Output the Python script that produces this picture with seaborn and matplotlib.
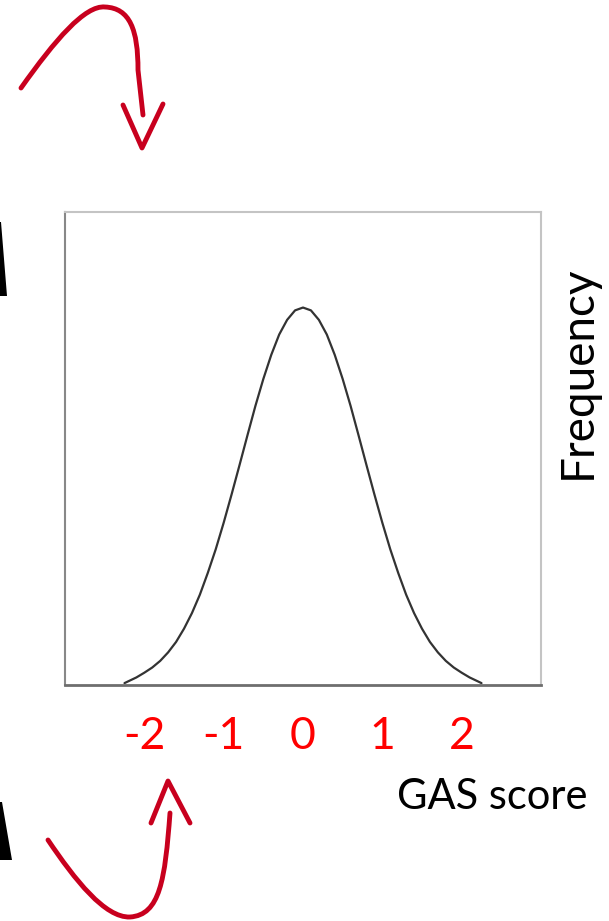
import pandas as pd
import seaborn as sns
import matplotlib.pyplot as plt
from matplotlib.path import Path
from matplotlib.patches import PathPatch, Polygon

# values (x in GAS score units, height as fraction of the box)
gas_score = [-2.25, -2.2, -2.1, -2.0, -1.9, -1.8, -1.7, -1.6, -1.5, -1.4, -1.3, -1.2,
             -1.1, -1.0, -0.9, -0.8, -0.7, -0.6, -0.5, -0.4, -0.3, -0.2, -0.1, 0.0,
             0.1, 0.2, 0.3, 0.4, 0.5, 0.6, 0.7, 0.8, 0.9, 1.0, 1.1, 1.2,
             1.3, 1.4, 1.5, 1.6, 1.7, 1.8, 1.9, 2.0, 2.1, 2.2, 2.25]
frequency = [0.004, 0.008, 0.016, 0.026, 0.037, 0.051, 0.069, 0.091, 0.119, 0.152, 0.191, 0.237,
             0.287, 0.343, 0.403, 0.465, 0.528, 0.590, 0.647, 0.698, 0.741, 0.772, 0.792, 0.798,
             0.792, 0.772, 0.741, 0.698, 0.647, 0.590, 0.528, 0.465, 0.403, 0.343, 0.287, 0.237,
             0.191, 0.152, 0.119, 0.091, 0.069, 0.051, 0.037, 0.026, 0.016, 0.008, 0.004]
score_ticks = [-2, -1, 0, 1, 2]
score_labels = ["-2", "-1", "0", "1", "2"]

df = pd.DataFrame({"GAS score": gas_score, "Frequency": frequency})

sns.set_style("white")
plt.rcParams['font.family'] = ['Lato', 'DejaVu Sans']

W, H = 609, 921
fig = plt.figure(figsize=(W / 100, H / 100), dpi=100)
ax = fig.add_axes([65 / W, 1 - 685 / H, (541 - 65) / W, (685 - 212) / H])

sns.lineplot(data=df, x="GAS score", y="Frequency", ax=ax, color="#333333", linewidth=1.6)
ax.set_xlim(-3, 3)
ax.set_ylim(0, 1)
ax.set_xlabel("")
ax.set_ylabel("")

# red score labels under the axis, one small tick at 0
ax.set_xticks(score_ticks)
ax.set_xticklabels(score_labels, color="red", fontsize=32)
ax.tick_params(axis="x", which="major", length=0, pad=22)
ax.xaxis.remove_overlapping_locs = False
ax.set_xticks([0], minor=True)
ax.tick_params(axis="x", which="minor", length=4, width=1, color="#777777", direction="out")
ax.set_yticks([0, 1])
ax.set_yticklabels([])
ax.tick_params(axis="y", length=3, width=1, color="#999999", direction="out")

for side in ["top", "right"]:
    ax.spines[side].set_color("#c4c4c4")
    ax.spines[side].set_linewidth(1.5)
ax.spines["left"].set_color("#888888")
ax.spines["left"].set_linewidth(1.5)
ax.spines["bottom"].set_color("#6e6e6e")
ax.spines["bottom"].set_linewidth(2)

fig.text(578 / W, 1 - 372 / H, "Frequency", rotation=90, ha="center", va="center",
         fontsize=33, color="black")
fig.text(492 / W, 1 - 797 / H, "GAS score", ha="center", va="center",
         fontsize=30, color="black")


# hand drawn red arrows (figure pixel coords -> fraction)
def px(x, y):
    return (x / W, 1 - y / H)


red = "#c8001e"
top_arrow = Path([px(21, 88), px(55, 40), px(85, 5), px(105, 7),
                  px(130, 8), px(138, 30), px(138, 70), px(143, 115)],
                 [Path.MOVETO, Path.CURVE4, Path.CURVE4, Path.CURVE4,
                  Path.CURVE4, Path.CURVE4, Path.CURVE4, Path.LINETO])
top_head = Path([px(123, 105), px(142, 148), px(163, 104)],
                [Path.MOVETO, Path.LINETO, Path.LINETO])
bottom_arrow = Path([px(48, 840), px(75, 880), px(105, 918), px(130, 917),
                     px(160, 915), px(165, 880), px(170, 813)],
                    [Path.MOVETO, Path.CURVE4, Path.CURVE4, Path.CURVE4,
                     Path.CURVE4, Path.CURVE4, Path.CURVE4])
bottom_head = Path([px(151, 823), px(168, 781), px(190, 823)],
                   [Path.MOVETO, Path.LINETO, Path.LINETO])
for p in [top_arrow, top_head, bottom_arrow, bottom_head]:
    fig.add_artist(PathPatch(p, transform=fig.transFigure, facecolor="none",
                             edgecolor=red, linewidth=3.5, capstyle="round", joinstyle="round"))

# black shapes cut off at the left edge
fig.add_artist(Polygon([px(0, 222), px(1, 222), px(7, 296), px(0, 296)],
                       closed=True, transform=fig.transFigure, facecolor="black", edgecolor="none"))
fig.add_artist(Polygon([px(0, 802), px(2, 802), px(12, 860), px(0, 860)],
                       closed=True, transform=fig.transFigure, facecolor="black", edgecolor="none"))

fig.savefig("out.png", dpi=100)
